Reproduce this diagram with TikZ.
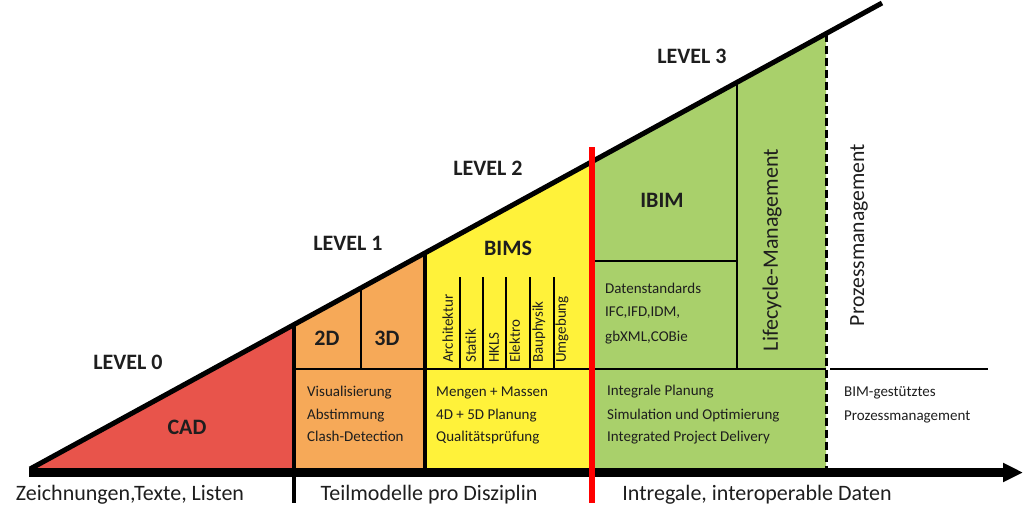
\documentclass[tikz,border=0pt]{standalone}
\usepackage{fontspec}
\setmainfont{Carlito}
\usetikzlibrary{arrows.meta}
\definecolor{cadred}{RGB}{232,84,75}
\definecolor{lvorange}{RGB}{246,169,88}
\definecolor{lvyellow}{RGB}{255,242,58}
\definecolor{lvgreen}{RGB}{169,208,107}
\definecolor{txt}{RGB}{30,30,30}
\begin{document}
\begin{tikzpicture}[x=1pt,y=-1pt,
  body/.style={font=\fontsize{15}{18}\selectfont, text=txt, inner sep=0, anchor=west, text height=10.5pt, text depth=3pt},
  levellab/.style={font=\bfseries\fontsize{22}{26}\selectfont, inner sep=0, text=txt},
  biglab/.style={font=\bfseries\fontsize{22}{26}\selectfont, inner sep=0, text=txt},
  bottomlab/.style={font=\fontsize{22}{26}\selectfont, inner sep=0, text=txt},
  collab/.style={font=\fontsize{15}{18}\selectfont, rotate=90, anchor=west, inner sep=0, text=txt, text height=10.5pt, text depth=3pt},
  vertlab/.style={rotate=90, inner sep=0, text=txt},
  thinline/.style={line width=1.5pt},
  heavyline/.style={line width=4pt},
]
\useasboundingbox (0,0) rectangle (1024,522);
% key points
\coordinate (A) at (30,469);
\coordinate (T) at (882,3);
\coordinate (h294) at (294,324.6);
\coordinate (h361) at (361,288);
\coordinate (h425) at (425,253);
\coordinate (h592) at (592,161.6);
\coordinate (h737) at (737,82.3);
\coordinate (h826) at (826,33.6);
\coordinate (b294) at (294,469);
\coordinate (b425) at (425,469);
\coordinate (b592) at (592,469);
\coordinate (b826) at (826,469);
% fills
\fill[cadred] (A) -- (h294) -- (b294) -- cycle;
\fill[lvorange] (h294) -- (h425) -- (b425) -- (b294) -- cycle;
\fill[lvyellow] (h425) -- (h592) -- (b592) -- (b425) -- cycle;
\fill[lvgreen] (h592) -- (h826) -- (b826) -- (b592) -- cycle;
% inner lines
\coordinate (m294) at (294,369);
\coordinate (m826) at (826,369);
\coordinate (m830) at (830,369);
\coordinate (m988) at (988,369);
\draw[line width=2pt] (m294) -- (m826);
\draw[line width=1.3pt] (m830) -- (m988);
\coordinate (m361) at (361,369);
\draw[thinline] (h361) -- (m361);
\foreach \xx in {460,483,506,530,554}{
  \draw[thinline] (\xx,277) -- (\xx,369);
}
\coordinate (i592) at (592,261);
\coordinate (i737) at (737,261);
\coordinate (m737) at (737,369);
\draw[thinline] (i592) -- (i737);
\draw[thinline] (h737) -- (m737);
\coordinate (d294) at (294,503);
\draw[heavyline] (h294) -- (d294);
\draw[heavyline] (h425) -- (b425);
\draw[line width=3pt, dash pattern=on 8pt off 4pt] (h826) -- (b826);
\draw[line width=5pt] (A) -- (T);
% baseline arrow
\coordinate (L0) at (29,472.5);
\coordinate (R0) at (1023,472.5);
\draw[line width=9pt, -{Triangle[length=20pt,width=18pt]}] (L0) -- (R0);
% red line
\coordinate (r1) at (592,147);
\coordinate (r2) at (592,503);
\draw[red, line width=6pt] (r1) -- (r2);
% level labels
\node[levellab] (lv0) at (128,362) {LEVEL 0};
\node[levellab] (lv1) at (348,243) {LEVEL 1};
\node[levellab] (lv2) at (488,168) {LEVEL 2};
\node[levellab] (lv3) at (692,56) {LEVEL 3};
% big labels
\node[biglab] (cad) at (187,427) {CAD};
\node[biglab] (d2) at (327,338) {2D};
\node[biglab] (d3) at (387,338) {3D};
\node[biglab] (bims) at (508,248) {BIMS};
\node[biglab] (ibim) at (662,200) {IBIM};
% columns
\node[collab] (c1) at (449,363) {Architektur};
\node[collab] (c2) at (472,363) {Statik};
\node[collab] (c3) at (495,363) {HKLS};
\node[collab] (c4) at (516,363) {Elektro};
\node[collab] (c5) at (539,363) {Bauphysik};
\node[collab] (c6) at (562,363) {Umgebung};
% vertical labels
\node[vertlab, font=\fontsize{22}{26}\selectfont] (lcm) at (772,250) {Lifecycle-Management};
\node[vertlab, font=\fontsize{21.7}{26}\selectfont] (pzm) at (859,235) {Prozessmanagement};
% body texts
\node[body] (o1) at (307,393) {Visualisierung};
\node[body] (o2) at (307,416) {Abstimmung};
\node[body] (o3) at (307,438) {Clash-Detection};
\node[body] (y1) at (436,393) {Mengen + Massen};
\node[body] (y2) at (436,416) {4D + 5D Planung};
\node[body] (y3) at (436,438) {Qualitätsprüfung};
\node[body] (g1) at (605,290) {Datenstandards};
\node[body] (g2) at (605,313) {IFC,IFD,IDM,};
\node[body] (g3) at (605,338) {gbXML,COBie};
\node[body] (g4) at (607,392) {Integrale Planung};
\node[body] (g5) at (607,416) {Simulation und Optimierung};
\node[body] (g6) at (607,438) {Integrated Project Delivery};
\node[body] (w1) at (844,393) {BIM-gestütztes};
\node[body] (w2) at (844,417) {Prozessmanagement};
% bottom labels
\node[bottomlab] (bl1) at (130,495) {Zeichnungen,Texte, Listen};
\node[bottomlab] (bl2) at (429,495) {Teilmodelle pro Disziplin};
\node[bottomlab] (bl3) at (757,495) {Intregale, interoperable Daten};
\end{tikzpicture}
\end{document}
